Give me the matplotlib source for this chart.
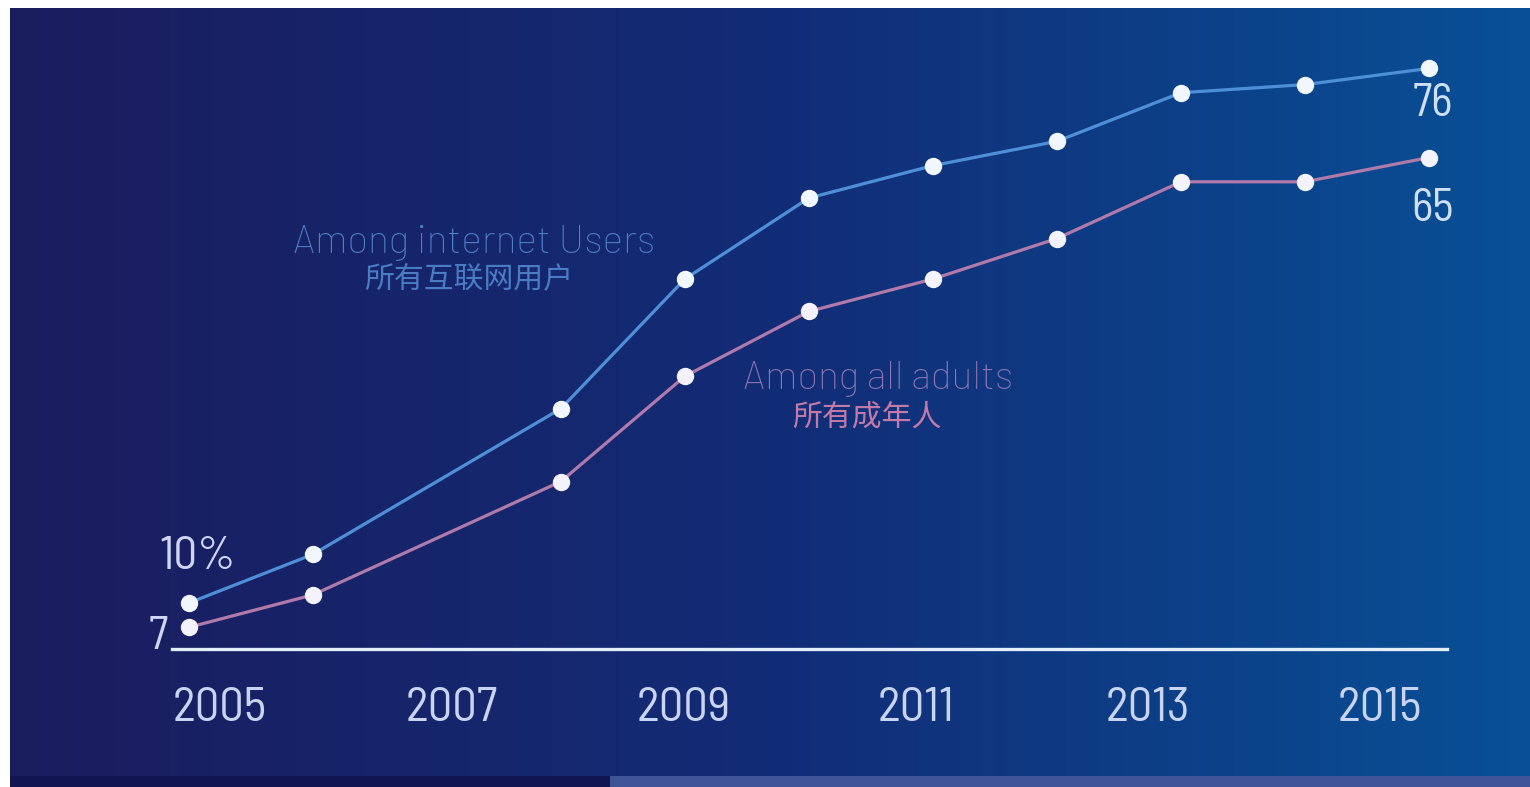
import matplotlib
matplotlib.use('Agg')
import matplotlib.pyplot as plt
from matplotlib.patches import Rectangle
import numpy as np

# survey years and shares (%)
years = [2005, 2006, 2008, 2009, 2010, 2011, 2012, 2013, 2014, 2015]
internet_users = [10, 16, 34, 50, 60, 64, 67, 73, 74, 76]
all_adults = [7, 11, 25, 38, 46, 50, 55, 62, 62, 65]
tick_labels = ['2005', '2007', '2009', '2011', '2013', '2015']

W, H = 1530, 787
NUM_FONT = ['Barlow Semi Condensed', 'Roboto Condensed', 'DejaVu Sans']
LABEL_FONT = ['Barlow', 'Roboto', 'DejaVu Sans']
CJK_FONT = ['Noto Sans CJK SC', 'DejaVu Sans']

fig = plt.figure(figsize=(W / 100, H / 100), dpi=100)
fig.patch.set_facecolor('white')

# background: horizontal navy -> blue gradient
bg = fig.add_axes([0, 0, 1, 1])
bg.set_xlim(0, W)
bg.set_ylim(H, 0)
bg.axis('off')
t = np.linspace(0, 1, 400)
left_c = np.array([27, 29, 94]) / 255
mid_c = np.array([18, 44, 118]) / 255
right_c = np.array([8, 80, 150]) / 255
grad = np.where(t[:, None] < 0.5,
                left_c + (mid_c - left_c) * (t[:, None] / 0.5),
                mid_c + (right_c - mid_c) * ((t[:, None] - 0.5) / 0.5))
bg.imshow(grad[None, :, :], extent=[10, W, 776, 8], aspect='auto', zorder=0)
bg.add_patch(Rectangle((10, 776), 600, 11, color='#0f1652', zorder=1, lw=0))
bg.add_patch(Rectangle((610, 776), W - 610, 11, color='#3f5598', zorder=1, lw=0))

# main chart axes, placed so that the data line up with the picture
x0, x1 = 2004.5, 2015.5
px_per_year = 124.03
px_2005 = 188.8
left_px = px_2005 + (x0 - 2005) * px_per_year
right_px = px_2005 + (x1 - 2005) * px_per_year
y_zero_px, px_per_pct = 684, 8.1
ymax = 80
top_px = y_zero_px - ymax * px_per_pct
ax = fig.add_axes([left_px / W, (H - y_zero_px) / H,
                   (right_px - left_px) / W, (y_zero_px - top_px) / H])
ax.set_xlim(x0, x1)
ax.set_ylim(0, ymax)
ax.patch.set_alpha(0)
for s in ax.spines.values():
    s.set_visible(False)
ax.set_yticks([])
ax.set_xticks([])

# baseline
ax.axhline(4.3, xmin=0.033, xmax=0.968, color='#e2eefa', lw=2.4, zorder=2)

ax.plot(years, internet_users, color='#4d90d8', lw=2.3, zorder=3,
        marker='o', ms=11.5, mfc='#f2f6ff', mec='#f2f6ff')
ax.plot(years, all_adults, color='#b07aaa', lw=2.3, zorder=3,
        marker='o', ms=11.5, mfc='#f4f2fb', mec='#f4f2fb')

# year labels
tick_pos = np.linspace(2005.25, 2014.6, len(tick_labels))
for xp, lab in zip(tick_pos, tick_labels):
    ax.text(xp, -3.1, lab, ha='center', va='center', fontsize=35,
            color='#c9d3f2', family=NUM_FONT, clip_on=False)

# end value labels
num_c = '#cfd6f4'
ax.text(years[0] + 0.07, 15.7, '10%', ha='center', va='center', fontsize=34,
        color=num_c, family=NUM_FONT)
ax.text(years[0] - 0.25, 5.8, '7', ha='center', va='center', fontsize=33,
        color=num_c, family=NUM_FONT)
ax.text(years[-1] + 0.03, 71.6, '76', ha='center', va='center', fontsize=33,
        color='#cfe0f6', family=NUM_FONT)
ax.text(years[-1] + 0.03, 58.6, '65', ha='center', va='center', fontsize=33,
        color='#cfe0f6', family=NUM_FONT)

# series labels
ax.text(2007.3, 54.4, 'Among internet Users', ha='center', va='center',
        fontsize=28, color='#4f7fc4', family=LABEL_FONT, weight='light')
ax.text(2007.26, 49.9, '所有互联网用户', ha='center', va='center',
        fontsize=21.5, color='#4a7cc4', family=CJK_FONT)
ax.text(2010.56, 37.7, 'Among all adults', ha='center', va='center',
        fontsize=28, color='#8e76b2', family=LABEL_FONT, weight='light')
ax.text(2010.47, 33.0, '所有成年人', ha='center', va='center',
        fontsize=21.5, color='#c47aa8', family=CJK_FONT)

fig.savefig('out.png', dpi=100, facecolor=fig.get_facecolor())
